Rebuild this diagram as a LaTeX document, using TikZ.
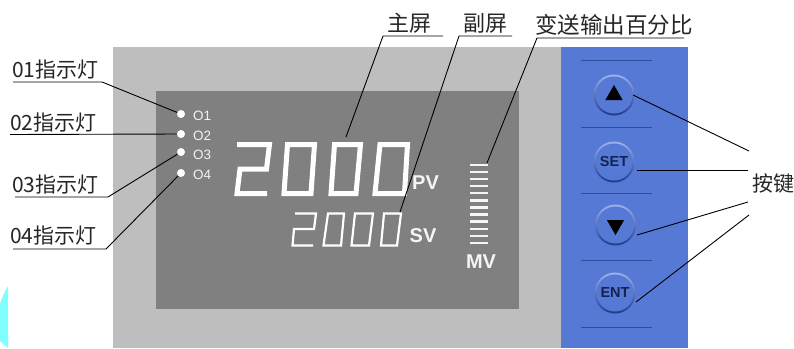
\documentclass[tikz,border=0pt]{standalone}
\usepackage{fontspec}
\setmainfont{Liberation Sans}
\newfontfamily\cjk{Noto Sans CJK SC}
\usetikzlibrary{shapes.geometric}
\definecolor{panelgray}{HTML}{BEBEBE}
\definecolor{screengray}{HTML}{808080}
\definecolor{panelblue}{HTML}{5779D6}
\definecolor{rimdark}{HTML}{1E3A8C}
\definecolor{rimlight}{HTML}{9DB2EA}
\definecolor{ruleblue}{HTML}{2F4C9E}
\definecolor{glow}{HTML}{80FFFF}
\tikzset{
  x=1pt,y=-1pt,
  leader/.style={draw=black,line width=0.9pt},
  label/.style={font=\cjk\fontsize{21}{21}\selectfont,text=black!85,inner sep=0pt,anchor=base west},
  led/.style={circle,fill=white,minimum size=8pt,inner sep=0pt},
  ledtext/.style={font=\fontsize{13.5}{14}\selectfont,text=white!90!gray,inner sep=0pt,anchor=base west},
  seg/.style={draw=white,line join=miter},
  unitlbl/.style={font=\bfseries\fontsize{20}{20}\selectfont,text=white!92!gray,inner sep=0pt},
  key/.style={circle,minimum size=37pt,inner sep=0pt,fill=panelblue},
  keytext/.style={font=\bfseries\fontsize{14.5}{15}\selectfont,text=rimdark!60!black},
  keyrule/.style={draw=ruleblue,line width=0.8pt},
  bar/.style={draw=white!92!gray,line width=2.4pt}
}
\begin{document}
\begin{tikzpicture}
\useasboundingbox (0,0) rectangle (794,348);
\fill[white] (0,0) rectangle (794,348);
% cyan glow
\fill[glow] (8,286) -- (8,348) -- (0,341) -- (0,304) .. controls (2,297) and (5,291) .. (8,286) -- cycle;
% panels
\fill[panelgray] (113,47) rectangle (562,348);
\fill[screengray] (156,91) rectangle (519,309);
\fill[panelblue] (561,47) rectangle (688,348);
% blue panel rules
\foreach \yy in {60.5,127,193,260,327}{\draw[keyrule] (581,\yy) -- (652,\yy);}
% LEDs
\node[led] (l1) at (181,114) {};
\node[led] (l2) at (181,134) {};
\node[led] (l3) at (181,152) {};
\node[led] (l4) at (181,173) {};
\node[ledtext] (t1) at (193,120) {O1};
\node[ledtext] (t2) at (193,140) {O2};
\node[ledtext] (t3) at (193,159) {O3};
\node[ledtext] (t4) at (193,179) {O4};
% large digits
\begin{scope}[seg,line width=5pt]
\draw (237,144.5) -- (269.5,144.5) -- (266.5,169) -- (240,169) -- (237,193.5) -- (267,193.5);
\draw (287.5,144.5) -- (314.5,144.5) -- (311,193.5) -- (284,193.5) -- cycle;
\draw (334.5,144.5) -- (360.5,144.5) -- (356,193.5) -- (331,193.5) -- cycle;
\draw (380,144.5) -- (407.5,144.5) -- (404.5,193.5) -- (375,193.5) -- cycle;
\end{scope}
% small digits
\begin{scope}[seg,line width=2.2pt]
\draw (295,213.5) -- (316,213.5) -- (314,229) -- (294,229) -- (292.5,245.5) -- (313,245.5);
\draw (328,213.5) -- (344,213.5) -- (341,245.5) -- (323.5,245.5) -- cycle;
\draw (355,213.5) -- (373,213.5) -- (369,245.5) -- (351.5,245.5) -- cycle;
\draw (384,213.5) -- (401,213.5) -- (397,245.5) -- (381,245.5) -- cycle;
\end{scope}
\node[unitlbl] (pv) at (425.5,183) {PV};
\node[unitlbl] (sv) at (423,236) {SV};
\node[unitlbl] (mv) at (481,262) {MV};
% MV bars
\foreach \i in {0,...,11}{\draw[bar] (470,164.8+7.1*\i) -- (488,164.8+7.1*\i);}
\coordinate (barTop) at (487,163);
\coordinate (mainPt) at (346,137);
\coordinate (subPt) at (400,212);
% buttons
\foreach \nm/\cx/\cy in {k1/614/95,k2/614/162,k3/615.5/225,k4/615/293}{
  \shade[top color=rimlight,bottom color=rimdark] (\cx,\cy) circle (20.5);
  \node[key] (\nm) at (\cx,\cy) {};
}
\node[keytext] at (k2) {SET};
\node[keytext] at (k4) {ENT};
\node[regular polygon,regular polygon sides=3,fill=black,minimum size=20pt,inner sep=0pt] at (k1) {};
\node[regular polygon,regular polygon sides=3,shape border rotate=180,fill=black,minimum size=20pt,inner sep=0pt] at (k3) {};
% labels
\node[label] (a1) at (12,77) {01指示灯};
\node[label] (a2) at (10,130) {02指示灯};
\node[label] (a3) at (12,192) {03指示灯};
\node[label] (a4) at (10,243) {04指示灯};
\node[label,font=\cjk\fontsize{22}{22}\selectfont] (b1) at (387,31) {主屏};
\node[label,font=\cjk\fontsize{22}{22}\selectfont] (b2) at (463,31) {副屏};
\node[label,font=\cjk\fontsize{22.5}{23}\selectfont] (b3) at (535,33) {变送输出百分比};
\node[label,font=\cjk\fontsize{21}{21}\selectfont] (b4) at (752,191) {按键};
% leaders: left
\coordinate (a1s) at (13,82); \coordinate (a1k) at (102,82);
\coordinate (a2s) at (10,134.5);
\coordinate (a3s) at (15,197); \coordinate (a3k) at (108,197);
\coordinate (a4s) at (13,249); \coordinate (a4k) at (106,249);
\draw[leader] (a1s) -- (a1k) -- (l1);
\draw[leader] (a2s) -- (l2);
\draw[leader] (a3s) -- (a3k) -- (l3);
\draw[leader] (a4s) -- (a4k) -- (l4);
% leaders: top
\coordinate (b1e) at (443,36); \coordinate (b1k) at (383,36);
\coordinate (b2e) at (512,36); \coordinate (b2k) at (459,36);
\coordinate (b3e) at (684,38); \coordinate (b3k) at (537,38);
\draw[leader] (b1e) -- (b1k) -- (mainPt);
\draw[leader] (b2e) -- (b2k) -- (subPt);
\draw[leader] (b3e) -- (b3k) -- (barTop);
% leaders: keys
\coordinate (c1) at (749,151); \coordinate (c2) at (748,170); \coordinate (c3) at (748,202); \coordinate (c4) at (749,215);
\coordinate (k1e) at (633,95); \coordinate (k2e) at (637,170); \coordinate (k3e) at (637,235); \coordinate (k4e) at (636,302);
\draw[leader] (c1) -- (k1e);
\draw[leader] (c2) -- (k2e);
\draw[leader] (c3) -- (k3e);
\draw[leader] (c4) -- (k4e);
\end{tikzpicture}
\end{document}
